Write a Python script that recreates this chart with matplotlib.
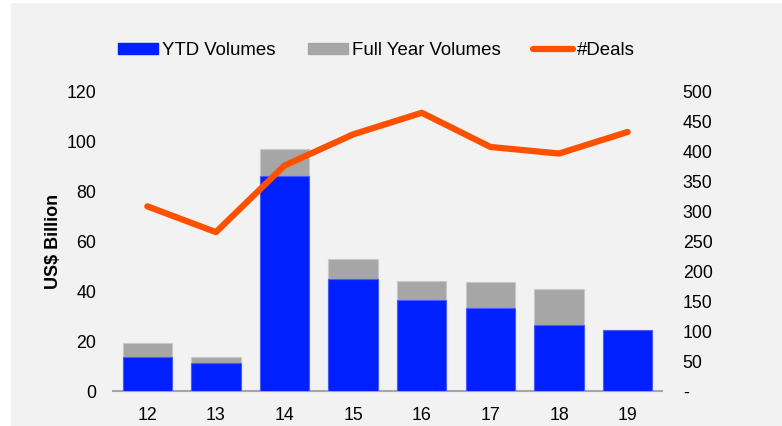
#!/usr/bin/env python3

import matplotlib.pyplot as plt
import matplotlib.patches as mpatches
import numpy as np

plt.rcParams['font.family'] = ['Liberation Sans', 'DejaVu Sans']

years = ['12', '13', '14', '15', '16', '17', '18', '19']
ytd = [13.8, 11.2, 85.9, 44.8, 36.4, 33.2, 26.4, 24.5]
full_year = [19.3, 13.7, 96.7, 52.7, 44.0, 43.6, 40.7, 0]
deals = [308, 265, 376, 428, 464, 407, 396, 432]

left_ticks = [0, 20, 40, 60, 80, 100, 120]
right_ticks = [0, 50, 100, 150, 200, 250, 300, 350, 400, 450, 500]
right_labels = ['-'] + [str(t) for t in right_ticks[1:]]

fig = plt.figure(figsize=(7.82, 4.26), dpi=100)
fig.patch.set_facecolor('white')
# grey panel with a thin white border at top/left
fig.patches.append(mpatches.Rectangle((11/782, 0), 1, 1 - 3/426,
                                      transform=fig.transFigure,
                                      facecolor='#f2f2f2', edgecolor='none',
                                      zorder=-10))

ax = fig.add_axes([0.1445, 0.082, 0.702, 0.704])
ax.set_facecolor('none')
x = np.arange(len(years))

ax.bar(x, full_year, width=0.72, color='#a6a6a6', edgecolor='#c8c8c8',
       linewidth=0.8, label='Full Year Volumes', zorder=2)
ax.bar(x, ytd, width=0.72, color='#0020ff', edgecolor='#4a5cff',
       linewidth=0.8, label='YTD Volumes', zorder=3)

ax.set_xlim(-0.5, 7.5)
ax.set_ylim(0, 120)
ax.set_xticks(x)
ax.set_xticklabels(years)
ax.set_yticks(left_ticks)
ax.tick_params(axis='both', length=0, labelsize=12.8, colors='black')
ax.tick_params(axis='x', pad=11.5)
ax.tick_params(axis='y', pad=12)
for s in ['top', 'right', 'left']:
    ax.spines[s].set_visible(False)
ax.spines['bottom'].set_color('#a6a6a6')
ax.spines['bottom'].set_linewidth(1.5)
ax.set_ylabel('US$ Billion', fontsize=13, fontweight='bold', labelpad=3)

ax2 = ax.twinx()
ax2.plot(x, deals, color='#ff5000', linewidth=4.5, solid_capstyle='round',
         label='#Deals', zorder=4)
ax2.set_ylim(0, 500)
ax2.set_yticks(right_ticks)
ax2.set_yticklabels(right_labels)
ax2.tick_params(axis='y', length=0, labelsize=12.8, pad=15)
for s in ['top', 'right', 'left', 'bottom']:
    ax2.spines[s].set_visible(False)

handles = [mpatches.Patch(color='#0020ff'), mpatches.Patch(color='#a6a6a6'),
           plt.Line2D([], [], color='#ff5000', linewidth=4.5,
                      solid_capstyle='round')]
labels = ['YTD Volumes', 'Full Year Volumes', '#Deals']
fig.legend(handles, labels, loc='center', bbox_to_anchor=(0.4815, 0.881),
           ncol=3, frameon=False, fontsize=13.4, handlelength=2.15,
           handleheight=0.54, handletextpad=0.2, columnspacing=1.75)

fig.savefig('out.png', dpi=100, facecolor=fig.get_facecolor())
